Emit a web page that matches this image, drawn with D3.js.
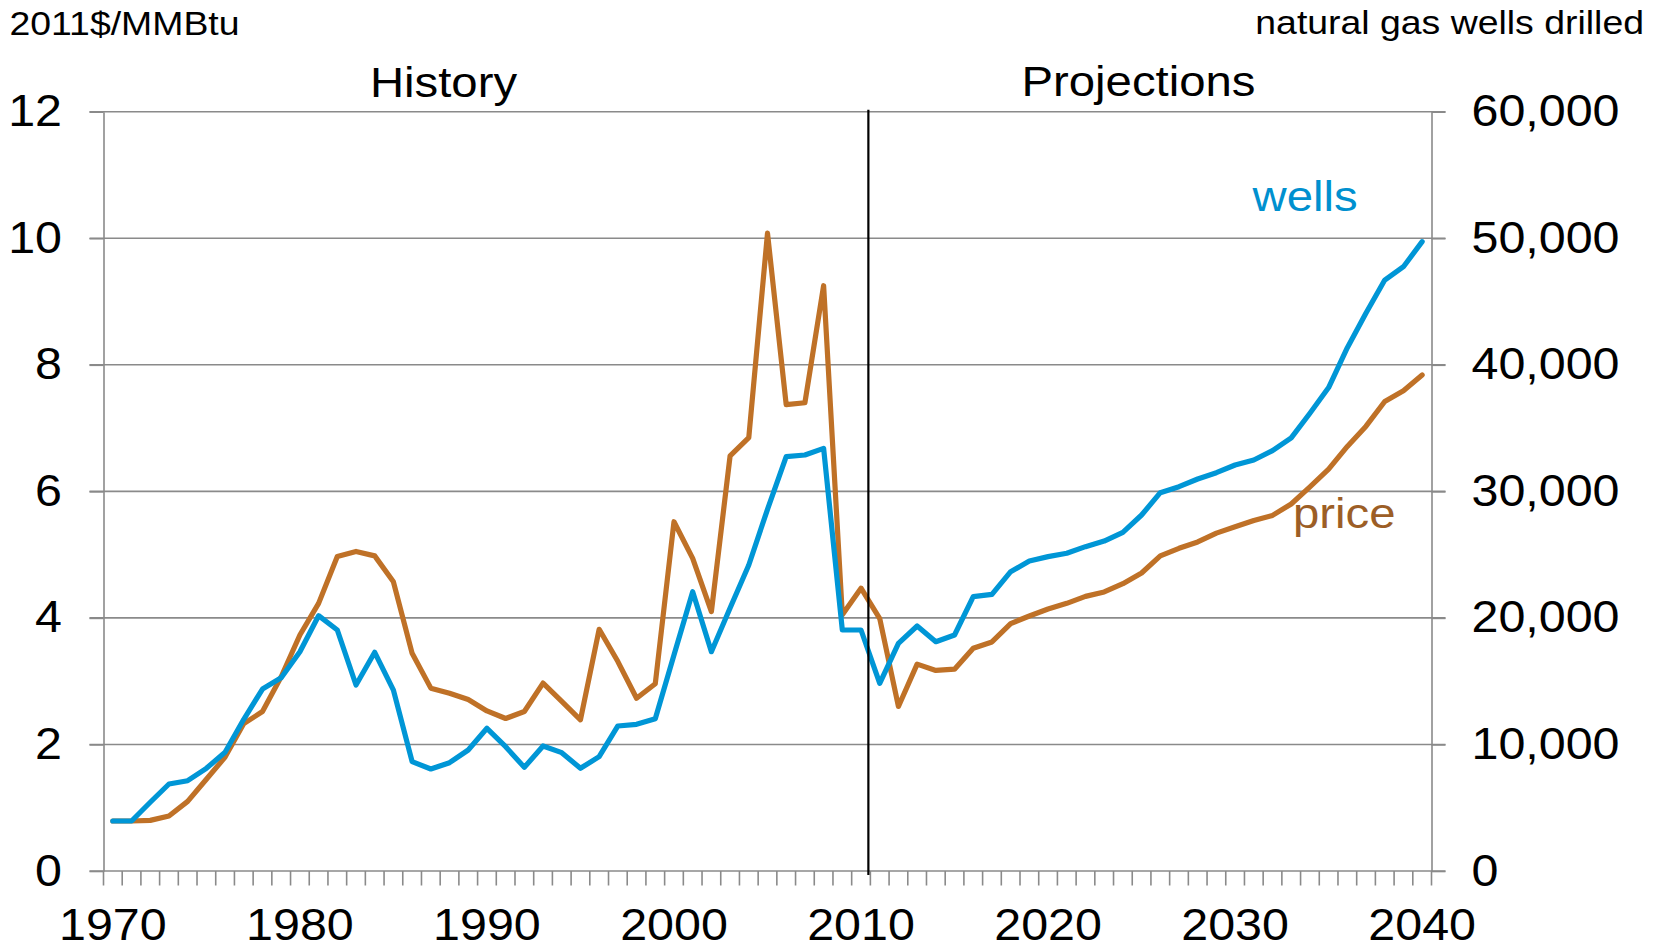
<!DOCTYPE html>
<html><head><meta charset="utf-8">
<script src="https://cdn.jsdelivr.net/npm/d3@7/dist/d3.min.js"></script>
<style>html,body{margin:0;padding:0;background:#fff}</style>
</head><body>
<svg id="chart" width="1656" height="950"></svg>
<script>
// ---- data ----
const years = [1970,1971,1972,1973,1974,1975,1976,1977,1978,1979,
  1980,1981,1982,1983,1984,1985,1986,1987,1988,1989,
  1990,1991,1992,1993,1994,1995,1996,1997,1998,1999,
  2000,2001,2002,2003,2004,2005,2006,2007,2008,2009,
  2010,2011,2012,2013,2014,2015,2016,2017,2018,2019,
  2020,2021,2022,2023,2024,2025,2026,2027,2028,2029,
  2030,2031,2032,2033,2034,2035,2036,2037,2038,2039,2040];
// natural gas price, 2011$/MMBtu (left axis)
const price = [0.79,0.79,0.80,0.87,1.10,1.45,1.80,2.33,2.52,3.07,
  3.73,4.23,4.97,5.05,4.98,4.57,3.44,2.89,2.81,2.71,
  2.53,2.41,2.52,2.97,2.68,2.39,3.82,3.31,2.73,2.96,
  5.52,4.94,4.10,6.56,6.85,10.08,7.37,7.40,9.25,4.05,
  4.47,3.99,2.60,3.27,3.17,3.19,3.52,3.62,3.91,4.03,
  4.14,4.23,4.34,4.41,4.54,4.71,4.98,5.10,5.20,5.34,
  5.44,5.54,5.62,5.80,6.07,6.35,6.71,7.03,7.42,7.59,7.84];
// natural gas wells drilled (right axis)
const wells = [3950,3950,5430,6875,7135,8115,9380,11990,14380,15275,
  17330,20175,19045,14700,17280,14300,8640,8060,8560,9560,
  11275,9825,8190,9880,9350,8115,9035,11460,11590,12035,
  17070,22070,17330,20780,24180,28580,32740,32870,33400,19045,
  19045,14830,17990,19360,18120,18650,21675,21865,23650,24500,
  24840,25105,25630,26075,26765,28130,29895,30370,30975,31475,
  32080,32480,33215,34230,36170,38200,41350,44100,46700,47750,49730];
const priceTicks = [0,2,4,6,8,10,12];
const wellTicks = [0,10000,20000,30000,40000,50000,60000];
const yearLabels = [1970,1980,1990,2000,2010,2020,2030,2040];
const firstProjectionYear = 2011;

// ---- layout ----
const W = 1656, H = 950;
const m = {left: 103.5, right: 1431.5, top: 111.7, bottom: 871};
const FONT = '"Liberation Sans", Arial, Helvetica, sans-serif';
const SX = 1.1;               // horizontal stretch of the original's text
const GRID = '#8a8a8a';
const C_PRICE = '#BF7127', C_WELLS = '#0096D6';

const svg = d3.select('#chart');
svg.append('rect').attr('width', W).attr('height', H).attr('fill', '#fff');

const x = d3.scaleBand().domain(years).range([m.left, m.right]).padding(0);
const cx = d => x(d) + x.bandwidth() / 2;
const yL = d3.scaleLinear().domain([0, 12]).range([m.bottom, m.top]);
const yR = d3.scaleLinear().domain([0, 60000]).range([m.bottom, m.top]);

function stretch(sel, sx) {
  sel.each(function () {
    const t = d3.select(this);
    const ax = +t.attr('x') || 0, ay = +t.attr('y') || 0;
    t.attr('transform', `translate(${ax},${ay}) scale(${sx},1) translate(${-ax},${-ay})`);
  });
}

// gridlines (extend over the outer tick marks on both sides)
svg.append('g').selectAll('line').data(priceTicks).join('line')
  .attr('x1', m.left - 14).attr('x2', m.right + 14)
  .attr('y1', d => yL(d)).attr('y2', d => yL(d))
  .attr('stroke', GRID).attr('stroke-width', 1.6);

// left axis
const gL = svg.append('g').attr('transform', `translate(${m.left},0)`)
  .call(d3.axisLeft(yL).tickValues(priceTicks).tickSize(14).tickSizeOuter(0).tickPadding(27.5).tickFormat(d3.format('d')));
// right axis
const gR = svg.append('g').attr('transform', `translate(${m.right},0)`)
  .call(d3.axisRight(yR).tickValues(wellTicks).tickSize(14).tickSizeOuter(0).tickPadding(26).tickFormat(d3.format(',')));
[gL, gR].forEach(g => {
  g.select('.domain').attr('stroke', GRID).attr('stroke-width', 1.6);
  g.selectAll('.tick line').attr('stroke', GRID).attr('stroke-width', 1.6);
  g.selectAll('.tick text').attr('font-family', FONT).attr('font-size', 44).attr('fill', '#000');
  stretch(g.selectAll('.tick text'), SX);
});

// x axis tick marks at category boundaries
const bounds = years.map(d => x(d)).concat([m.right]);
svg.append('g').selectAll('line').data(bounds).join('line')
  .attr('x1', d => d).attr('x2', d => d)
  .attr('y1', m.bottom).attr('y2', m.bottom + 14.5)
  .attr('stroke', GRID).attr('stroke-width', 1.6);
// x axis labels
const gX = svg.append('g').attr('transform', `translate(0,${m.bottom})`)
  .call(d3.axisBottom(x).tickValues(yearLabels).tickSize(0).tickPadding(38));
gX.select('.domain').remove();
gX.selectAll('.tick text').attr('font-family', FONT).attr('font-size', 44).attr('fill', '#000');
stretch(gX.selectAll('.tick text'), SX);

// lines
const linePrice = d3.line().x((d, i) => cx(years[i])).y(d => yL(d));
const lineWells = d3.line().x((d, i) => cx(years[i])).y(d => yR(d));
svg.append('path').datum(price).attr('d', linePrice)
  .attr('fill', 'none').attr('stroke', C_PRICE).attr('stroke-width', 5.2)
  .attr('stroke-linejoin', 'round').attr('stroke-linecap', 'round');
svg.append('path').datum(wells).attr('d', lineWells)
  .attr('fill', 'none').attr('stroke', C_WELLS).attr('stroke-width', 5.2)
  .attr('stroke-linejoin', 'round').attr('stroke-linecap', 'round');

// history / projections divider
const xDiv = x(firstProjectionYear) - 2;
svg.append('line').attr('x1', xDiv).attr('x2', xDiv).attr('y1', m.top - 2).attr('y2', m.bottom + 4)
  .attr('stroke', '#000').attr('stroke-width', 2.2);

// texts
function label(t, px, py, size, anchor, color) {
  const el = svg.append('text').attr('x', px).attr('y', py)
    .attr('font-family', FONT).attr('font-size', size)
    .attr('text-anchor', anchor).attr('fill', color).text(t);
  stretch(el, SX);
  return el;
}
label('2011$/MMBtu', 9.5, 35, 34, 'start', '#000');
label('natural gas wells drilled', 1644, 34.5, 34, 'end', '#000');
label('History', 443.5, 97, 43, 'middle', '#000');
label('Projections', 1138.5, 96.5, 43, 'middle', '#000');
label('wells', 1252.5, 210.7, 43, 'start', '#0090CF');
label('price', 1293, 528.3, 43, 'start', '#9C5E26');
</script>
</body></html>
